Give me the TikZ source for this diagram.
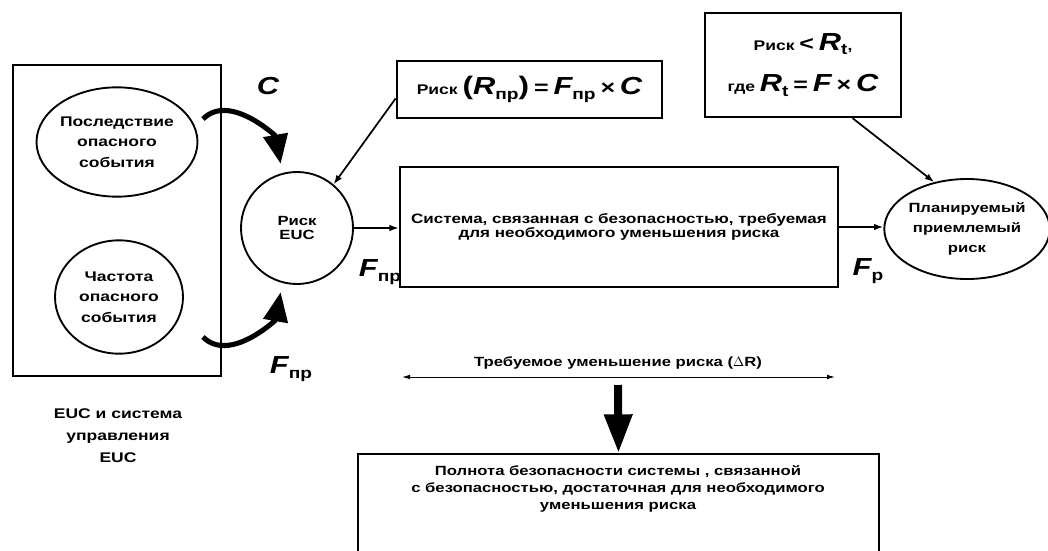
\documentclass[tikz,border=0pt]{standalone}
\usepackage{fontspec}
\setmainfont{Liberation Sans}[FakeStretch=1.25]
\usetikzlibrary{arrows.meta,calc,shapes.geometric}

\newcommand{\fs}[2]{\fontsize{#1}{#2}\selectfont}
\newcommand{\bigv}[2]{{\fs{18.5}{18}\bfseries\itshape #1}\raisebox{-0.6ex}{\fs{11.5}{11}\bfseries #2}}

\begin{document}
\begin{tikzpicture}
    [
        x = 0.75pt, y = -0.75pt,
        every node/.style = {font = \bfseries\fs{10}{15}, align = center},
        box/.style = {draw, line width = 1.8pt, inner sep = 0pt},
        oval/.style = {draw, ellipse, line width = 1.4pt, inner sep = 0pt},
        conn/.style = {line width = 1.3pt, -{Latex[length = 7pt, width = 5pt]}},
        bigarr/.style = {line width = 3.8pt, -{Triangle[length = 22pt, width = 18pt]}, shorten > = 7pt},
    ]

    \useasboundingbox (0,0) rectangle (1048,550);

    \node [box, minimum width = 156pt, minimum height = 233pt] (euccs) at (117,220.5) {};
    \node [oval, minimum width = 115pt, minimum height = 82pt, font = \bfseries\fs{10.5}{15.5}] (cons) at (117,142) {Последствие\\опасного\\события};
    \node [oval, minimum width = 96pt, minimum height = 85pt, font = \bfseries\fs{10.5}{15.5}] (freq) at (119,297) {Частота\\опасного\\события};
    \node [font = \bfseries\fs{10.5}{16.5}] (eucname) at (118,436) {EUC и система\\управления\\EUC};

    \node [draw, circle, line width = 1.4pt, minimum size = 84pt, inner sep = 0pt, font = \bfseries\fs{10}{11}] (euc) at (297,228) {Риск\\EUC};

    \node [box, minimum width = 199pt, minimum height = 43pt] (rbox) at (529.5,89.5)
        {\fs{10.5}{12}Риск {\fs{19}{19}(}\bigv{R}{пр}{\fs{19}{19})} {\fs{15}{15}=} \bigv{F}{пр} {\fs{15}{15}×} \bigv{C}{}};

    \node [box, minimum width = 328.5pt, minimum height = 90pt, font = \bfseries\fs{10.2}{10.5}] (sysbox) at (619,227)
        {Система, связанная с безопасностью, требуемая\\для необходимого уменьшения риска};

    \node [oval, minimum width = 120pt, minimum height = 75pt] (plan) at (967,229) {Планируемый\\приемлемый\\риск};

    \node [box, minimum width = 147pt, minimum height = 78pt, font = \bfseries\fs{10.5}{31}] (tbox) at (803,65)
        {Риск {\fs{15}{15}<} \bigv{R}{t},\\где \bigv{R}{t} {\fs{15}{15}=} \bigv{F}{} {\fs{15}{15}×} \bigv{C}{}};

    \node (clbl) at (268,88) {\bigv{C}{}};
    \node (fpr1) at (291,369) {\bigv{F}{пр}};
    \node (fpr2) at (380,272) {\bigv{F}{пр}};
    \node (fp) at (868,271) {\bigv{F}{р}};

    \coordinate (cstart) at (203,119);
    \coordinate (fstart) at (203,337);
    \draw [bigarr] (cstart) to [out = 45, in = 100] (euc.105);
    \draw [bigarr] (fstart) to [out = -45, in = -100] (euc.255);

    \draw [conn] ($(rbox.south west)!0.35!(rbox.north west)$) -- (euc.50);
    \draw [conn] (euc.east) -- (euc.east -| sysbox.west);
    \draw [conn] (sysbox.east) -- (sysbox.east -| plan.west);
    \draw [conn] ($(tbox.south)!0.5!(tbox.south east)$) -- (plan.125);

    \node [font = \bfseries\fs{10}{10}] (dtxt) at (618,363) {Требуемое уменьшение риска ($\Delta$R)};
    \coordinate (dl) at (402,377);
    \coordinate (dr) at (835,377);
    \draw [line width = 0.7pt, {Latex[length = 6pt, width = 3.5pt]}-{Latex[length = 6pt, width = 3.5pt]}] (dl) -- (dr);

    \node [box, minimum width = 391pt, minimum height = 80pt, anchor = north] (botbox) at (618.5,453) {};
    \node [font = \bfseries\fs{10}{12.8}] (bottxt) at (618,489)
        {Полнота безопасности системы , связанной\\с безопасностью, достаточная для необходимого\\уменьшения риска};

    \coordinate (dtop) at (618,385);
    \draw [line width = 6pt, -{Triangle[length = 29pt, width = 20pt]}] (dtop) -- (botbox.north);

\end{tikzpicture}
\end{document}
